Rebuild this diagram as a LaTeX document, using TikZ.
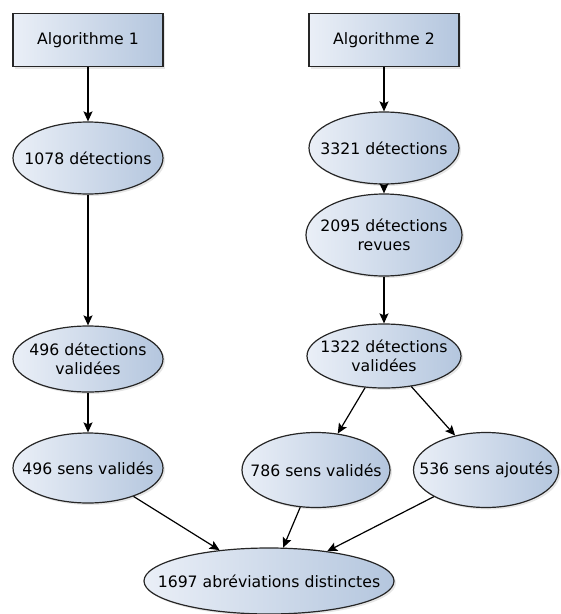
\documentclass[tikz,border=0pt]{standalone}
\usepackage{fontspec}
\setmainfont{DejaVu Sans}
\usetikzlibrary{shapes.geometric,arrows.meta,shadows}
\definecolor{shadeL}{HTML}{EAEFF7}
\definecolor{shadeR}{HTML}{B4C6DE}

\begin{document}
\begin{tikzpicture}[x=1pt,y=1pt]
   \tikzstyle{algo}=[rectangle,draw=black!85,line width=1.2pt,left color=shadeL,right color=shadeR,
      minimum width=150pt,minimum height=53pt,drop shadow={opacity=0.2,shadow xshift=2pt,shadow yshift=-2pt}]
   \tikzstyle{count}=[ellipse,draw=black!85,line width=1.2pt,left color=shadeL,right color=shadeR,
      minimum width=150pt,minimum height=70pt,inner xsep=-35pt,inner ysep=0pt,align=center,
      drop shadow={opacity=0.2,shadow xshift=2pt,shadow yshift=-2pt}]
   \tikzstyle{arrow}=[line width=1.2pt,draw,-{Stealth[length=10pt,width=9pt,inset=2pt]}]
   \useasboundingbox (0,0) rectangle (561,-614);
   \begin{scope}[font=\fontsize{15.7}{19.5}\selectfont]
   \node (algo1) [algo] at (88,-40) {Algorithme 1} ;
   \node (det1078) [count,below of=algo1,node distance=118pt,minimum height=72pt] {1078 détections} ;
   \node (val496) [count,below of=det1078,node distance=201pt,minimum height=66pt] {496 détections\\validées} ;
   \node (sens496) [count,below of=val496,node distance=109pt] {496 sens validés} ;
   \node (algo2) [algo,right of=algo1,node distance=296pt] {Algorithme 2} ;
   \node (det3321) [count,below of=algo2,node distance=108pt,minimum height=72pt] {3321 détections} ;
   \node (rev2095) [count,below of=det3321,node distance=87pt,minimum width=156pt,minimum height=82pt] {2095 détections\\revues} ;
   \node (val1322) [count,below of=rev2095,node distance=121pt,minimum width=154pt,minimum height=64pt] {1322 détections\\validées} ;
   \node (sens786) [count,below of=val1322,node distance=114pt,xshift=-68pt,minimum width=148pt,minimum height=75pt] {786 sens validés} ;
   \node (sens536) [count,below of=val1322,node distance=114pt,xshift=102pt,minimum width=145pt,minimum height=75pt] {536 sens ajoutés} ;
   \node (abr1697) [count,below of=sens496,node distance=113pt,xshift=181pt,minimum width=250pt,minimum height=66pt] {1697 abréviations distinctes} ;
   \end{scope}
   \path [arrow] (algo1) -- (det1078) ;
   \path [arrow] (det1078) -- (val496) ;
   \path [arrow] (val496) -- (sens496) ;
   \path [arrow] (sens496) -- (abr1697) ;
   \path [arrow] (algo2) -- (det3321) ;
   \path [arrow] (det3321) -- (rev2095) ;
   \path [arrow] (rev2095) -- (val1322) ;
   \path [arrow] (val1322) -- (sens786) ;
   \path [arrow] (val1322) -- (sens536) ;
   \path [arrow] (sens786) -- (abr1697) ;
   \path [arrow] (sens536) -- (abr1697) ;
\end{tikzpicture}
\end{document}
